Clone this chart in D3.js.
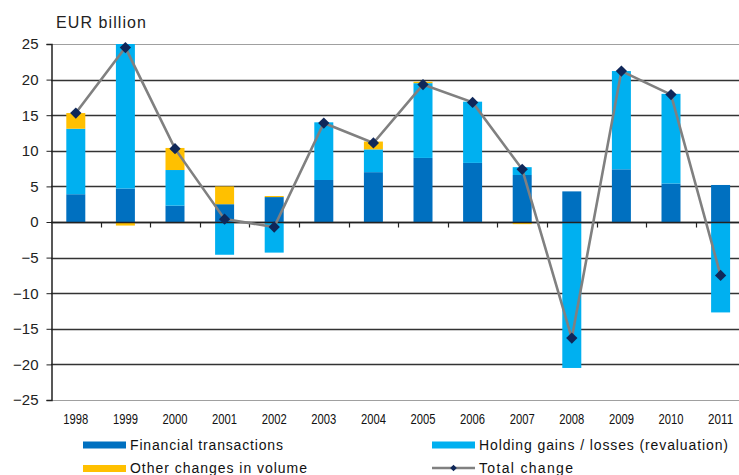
<!DOCTYPE html>
<html><head><meta charset="utf-8">
<script src="https://cdn.jsdelivr.net/npm/d3@7"></script>
<style>
html,body{margin:0;padding:0;background:#fff;}
svg{display:block;font-family:"Liberation Sans",Arial,sans-serif;}
</style></head>
<body>
<svg id="chart" width="739" height="475"></svg>
<script>
const years = ["1998","1999","2000","2001","2002","2003","2004","2005","2006","2007","2008","2009","2010","2011"];
const financial = [3.9, 4.7, 2.3, 2.5, 3.5, 5.9, 7.0, 9.0, 8.3, 6.6, 4.3, 7.4, 5.4, 5.2];
const holding = [9.2, 20.3, 5.0, -4.6, -4.3, 8.1, 3.2, 10.5, 8.6, 1.1, -20.5, 13.8, 12.6, -12.7];
const other = [2.2, -0.5, 3.1, 2.5, 0.15, 0, 1.1, 0.2, 0, -0.3, 0, 0, 0, 0];
const total = [15.3, 24.5, 10.3, 0.4, -0.7, 13.9, 11.1, 19.3, 16.8, 7.4, -16.3, 21.2, 17.9, -7.5];
const yTicks = [-25,-20,-15,-10,-5,0,5,10,15,20,25];
const seriesNames = ["Financial transactions","Holding gains / losses (revaluation)","Other changes in volume","Total change"];
const colors = {fin:"#0070C0", hold:"#00B0F0", oth:"#FFC000", line:"#808080", marker:"#0F2759"};

const svg = d3.select("#chart");
const plotLeft = 51, plotTop = 44, plotBottom = 400;
const step = 49.6;
const x = d3.scaleBand().domain(years).range([plotLeft, plotLeft + step*years.length])
  .paddingInner(0.617).paddingOuter(0.3085);
const y = d3.scaleLinear().domain([-25,25]).range([plotBottom, plotTop]);

// gridlines
svg.append("g").selectAll("line").data(yTicks).join("line")
  .attr("x1", plotLeft).attr("x2", 739)
  .attr("y1", d => Math.round(y(d))+0.5).attr("y2", d => Math.round(y(d))+0.5)
  .attr("stroke", d => (d===25||d===-25) ? "#a0a0a0" : "#333")
  .attr("stroke-width", d => (d===25||d===-25) ? 1 : 1.6);

// y axis
const yAxis = d3.axisLeft(y).tickValues(yTicks).tickSize(5).tickPadding(8).tickFormat(d3.format("d"));
const gy = svg.append("g").attr("transform", `translate(${plotLeft+0.5},0)`).call(yAxis);
gy.select(".domain").attr("stroke","#222").attr("stroke-width",1.5);
gy.selectAll(".tick line").attr("stroke","#222");
gy.selectAll("text").attr("font-size","15px").attr("fill","#222").attr("font-family","Liberation Sans, Arial, sans-serif");

// stacked bars
const rows = years.map((yr,i) => ({year:yr, fin:financial[i], hold:holding[i], oth:other[i]}));
const stack = d3.stack().keys(["fin","hold","oth"]).offset(d3.stackOffsetDiverging);
const layers = stack(rows);
svg.append("g").selectAll("g").data(layers).join("g")
  .attr("fill", d => colors[d.key])
  .selectAll("rect").data(d => d).join("rect")
  .attr("x", d => x(d.data.year))
  .attr("width", x.bandwidth())
  .attr("y", d => y(Math.max(d[0], d[1])))
  .attr("height", d => Math.abs(y(d[0]) - y(d[1])));

// x axis at zero with ticks at category boundaries
const y0 = Math.round(y(0)) + 0.5;
svg.append("line").attr("x1", plotLeft).attr("x2", 739).attr("y1", y0).attr("y2", y0)
  .attr("stroke","#222").attr("stroke-width",1.6);
const boundaries = years.map((yr,i) => plotLeft + step*(i+1));
svg.append("g").selectAll("line").data(boundaries.filter(b => b < 739)).join("line")
  .attr("x1", d => Math.round(d)+0.5).attr("x2", d => Math.round(d)+0.5)
  .attr("y1", y0).attr("y2", y0 + 5).attr("stroke","#222").attr("stroke-width",1.2);

// year labels
svg.append("g").selectAll("text").data(years).join("text")
  .attr("x", d => x(d) + x.bandwidth()/2).attr("y", 423.5)
  .attr("text-anchor","middle").attr("font-size","14.5px").attr("fill","#111")
  .attr("textLength", 25).attr("lengthAdjust","spacingAndGlyphs")
  .text(d => d);

// total change line
const cx = i => x(years[i]) + x.bandwidth()/2;
const line = d3.line().x((d,i) => cx(i)).y(d => y(d));
svg.append("path").datum(total).attr("d", line)
  .attr("fill","none").attr("stroke",colors.line).attr("stroke-width",2.6);
const diamond = d3.symbol().type(d3.symbolSquare).size(64);
svg.append("g").selectAll("path").data(total).join("path")
  .attr("d", diamond)
  .attr("transform", (d,i) => `translate(${cx(i)},${y(d)}) rotate(45)`)
  .attr("fill", colors.marker);

// title
svg.append("text").attr("x", 56).attr("y", 28).attr("font-size","16px").attr("fill","#222")
  .attr("textLength", 90).attr("lengthAdjust","spacing").text("EUR billion");

// legend
const leg = svg.append("g");
const legItems = [
  {name:seriesNames[0], type:"rect", color:colors.fin, sx:83, ty:449.5, sy:441.5, tl:153},
  {name:seriesNames[1], type:"rect", color:colors.hold, sx:432, ty:449.5, sy:441.5, tl:249},
  {name:seriesNames[2], type:"rect", color:colors.oth, sx:83, ty:473, sy:465, tl:177},
  {name:seriesNames[3], type:"line", color:colors.line, sx:432, ty:473, sy:468, tl:94}
];
legItems.forEach(it => {
  if (it.type === "rect") {
    leg.append("rect").attr("x", it.sx).attr("y", it.sy).attr("width", 43).attr("height", 7).attr("fill", it.color);
  } else {
    leg.append("line").attr("x1", it.sx).attr("x2", it.sx+43).attr("y1", it.sy).attr("y2", it.sy)
      .attr("stroke", it.color).attr("stroke-width", 2.4);
    leg.append("path").attr("d", d3.symbol().type(d3.symbolSquare).size(22))
      .attr("transform", `translate(${it.sx+21.5},${it.sy}) rotate(45)`).attr("fill", colors.marker);
  }
  leg.append("text").attr("x", it.sx + 47).attr("y", it.ty).attr("font-size","14px").attr("fill","#111")
    .attr("textLength", it.tl).attr("lengthAdjust","spacing").text(it.name);
});
</script>
</body></html>
